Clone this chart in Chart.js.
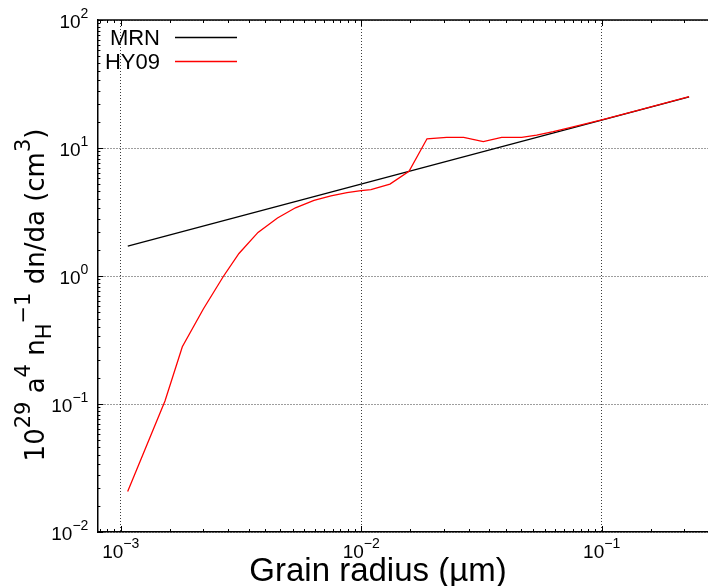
<!DOCTYPE html>
<html>
<head>
<meta charset="utf-8">
<script src="https://cdn.jsdelivr.net/npm/chart.js@4/dist/chart.umd.min.js"></script>
<style>
  html, body { margin: 0; padding: 0; background: #fff; overflow: hidden; }
  #wrap { width: 720px; height: 586px; }
</style>
</head>
<body>
<div id="wrap"><canvas id="c" width="720" height="586"></canvas></div>
<script>
// Grain size distributions: a^4 n_H^-1 dn/da (in 1e-29 cm^3) against grain radius (µm)
const MRN_RADIUS = [0.00107, 0.231];
const MRN_VALUE  = [1.71, 25.1];

const HY09_RADIUS = [0.001069, 0.001528, 0.001804, 0.002206, 0.002671, 0.003103, 0.003724,
  0.004487, 0.00533, 0.006365, 0.007487, 0.00873, 0.00998, 0.01098, 0.01317, 0.01581,
  0.01878, 0.02267, 0.02668, 0.03219, 0.03838, 0.04649, 0.05366, 0.0629, 0.07381,
  0.1, 0.14, 0.231];
const HY09_VALUE = [0.0207, 0.1055, 0.280, 0.552, 0.991, 1.50, 2.19,
  2.84, 3.41, 3.89, 4.22, 4.48, 4.64, 4.73, 5.23, 6.58,
  11.8, 12.1, 12.1, 11.2, 12.1, 12.1, 12.6, 13.4, 14.4,
  16.6, 19.6, 25.2];

const SERIES_NAMES = ['MRN', 'HY09'];
const SERIES_COLORS = ['#000000', '#ff0000'];

// Axis ranges and tick layout (decades, with 14 linear minor steps per decade)
const X_RANGE = [8e-4, 0.3];
const Y_RANGE = [1e-2, 1e2];
const X_DECADES = [1e-4, 1e-3, 1e-2, 1e-1];
const Y_DECADES = [1e-3, 1e-2, 1e-1, 1e0, 1e1, 1e2];
const MINOR_MULT = [1.6, 2.2, 2.8, 3.4, 4.0, 4.6, 5.2, 5.8, 6.4, 7.0, 7.6, 8.2, 8.8, 9.4];
const X_TICK_LABELS = [[1e-3, '−3'], [1e-2, '−2'], [1e-1, '−1']];
const Y_TICK_LABELS = [[1e-2, '−2'], [1e-1, '−1'], [1e0, '0'], [1e1, '1'], [1e2, '2']];

const X_TITLE = [['Grain radius (µm)', 0]];
const Y_TITLE = [['10', 0], ['29', 1], [' a', 0], ['4', 1], [' n', 0], ['H', -1], ['−1', 1],
  [' dn/da (cm', 0], ['3', 1], [')', 0]];

const FONT = "'Liberation Sans', Arial, Helvetica, sans-serif";
const WIDE_FONT = "'DejaVu Sans', Verdana, sans-serif";

function isDecade(v) {
  const l = Math.log10(v);
  return Math.abs(l - Math.round(l)) < 1e-9;
}

function tickValues(decades, range) {
  const out = [];
  for (const d of decades) {
    out.push(d);
    for (const m of MINOR_MULT) out.push(d * m);
  }
  return out.filter(v => v >= range[0] * 0.9999 && v <= range[1] * 1.0001)
            .sort((a, b) => a - b);
}

function points(xs, ys) {
  return xs.map((x, i) => ({ x: x, y: ys[i] }));
}

// Text with superscripts (level 1) and subscripts (level -1)
function drawRich(ctx, parts, x, y, size, align, scale, family) {
  const fam = family || FONT;
  const small = Math.round(size * (scale || 0.74));
  const fontFor = l => (l ? small : size) + 'px ' + fam;
  let w = 0;
  for (const [t, l] of parts) { ctx.font = fontFor(l); w += ctx.measureText(t).width; }
  let cx = align === 'right' ? x - w : align === 'center' ? x - w / 2 : x;
  ctx.textAlign = 'left';
  ctx.textBaseline = 'alphabetic';
  for (const [t, l] of parts) {
    ctx.font = fontFor(l);
    const dy = l === 1 ? -size * 0.52 : l === -1 ? size * 0.28 : 0;
    ctx.fillText(t, cx, y + dy);
    cx += ctx.measureText(t).width;
  }
}

const frame = {
  id: 'frame',
  afterDraw(chart) {
    const ctx = chart.ctx;
    const a = chart.chartArea;
    const xs = chart.scales.x, ys = chart.scales.y;
    ctx.save();

    // top border
    ctx.strokeStyle = '#000';
    ctx.lineWidth = 1.5;
    ctx.beginPath();
    ctx.moveTo(a.left, a.top);
    ctx.lineTo(a.right + 2, a.top);
    ctx.stroke();

    // inward tick marks
    ctx.lineWidth = 1;
    ctx.beginPath();
    for (const t of xs.ticks) {
      const px = Math.round(xs.getPixelForValue(t.value)) + 0.5;
      const len = isDecade(t.value) ? 6 : 3;
      ctx.moveTo(px, a.bottom); ctx.lineTo(px, a.bottom - len);
      ctx.moveTo(px, a.top); ctx.lineTo(px, a.top + len);
    }
    for (const t of ys.ticks) {
      const py = Math.round(ys.getPixelForValue(t.value)) + 0.5;
      const len = isDecade(t.value) ? 6 : 3;
      ctx.moveTo(a.left, py); ctx.lineTo(a.left + len, py);
    }
    ctx.stroke();

    // tick labels
    ctx.fillStyle = '#000';
    for (const [v, e] of X_TICK_LABELS) {
      const px = xs.getPixelForValue(v);
      drawRich(ctx, [['10', 0], [e, 1]], px, a.bottom + 26, 19, 'center');
    }
    for (const [v, e] of Y_TICK_LABELS) {
      const py = ys.getPixelForValue(v);
      drawRich(ctx, [['10', 0], [e, 1]], a.left - 9, py + 8, 19, 'right');
    }

    // axis titles
    drawRich(ctx, X_TITLE, 378, 581, 33, 'center');
    ctx.save();
    ctx.translate(44, 295);
    ctx.rotate(-Math.PI / 2);
    drawRich(ctx, Y_TITLE, 0, 0, 26, 'center', 0.8, WIDE_FONT);
    ctx.restore();

    // key
    chart.data.datasets.forEach((ds) => {
      const idx = SERIES_NAMES.indexOf(ds.label);
      const ly = 37 + idx * 24;
      ctx.font = '22px ' + FONT;
      ctx.textAlign = 'right';
      ctx.textBaseline = 'alphabetic';
      ctx.fillStyle = '#000';
      ctx.fillText(ds.label, 160, ly + 8);
      ctx.strokeStyle = ds.borderColor;
      ctx.lineWidth = 1.3;
      ctx.beginPath();
      ctx.moveTo(175, ly + 0.5);
      ctx.lineTo(237, ly + 0.5);
      ctx.stroke();
    });

    ctx.restore();
  }
};

function gridColor(c) {
  return c.tick && isDecade(c.tick.value) ? 'rgba(40,40,40,0.9)' : 'rgba(0,0,0,0)';
}

new Chart(document.getElementById('c'), {
  type: 'line',
  data: {
    datasets: [
      {
        label: SERIES_NAMES[0],
        data: points(MRN_RADIUS, MRN_VALUE),
        borderColor: SERIES_COLORS[0],
        borderWidth: 1.3,
        pointRadius: 0,
        tension: 0,
        order: 1
      },
      {
        label: SERIES_NAMES[1],
        data: points(HY09_RADIUS, HY09_VALUE),
        borderColor: SERIES_COLORS[1],
        borderWidth: 1.3,
        pointRadius: 0,
        tension: 0,
        order: 0
      }
    ]
  },
  options: {
    responsive: false,
    animation: false,
    events: [],
    layout: { padding: { left: 0, top: 20, right: 3.6, bottom: 0 } },
    plugins: { legend: { display: false }, tooltip: { enabled: false } },
    scales: {
      x: {
        type: 'logarithmic',
        min: X_RANGE[0],
        max: X_RANGE[1],
        afterBuildTicks: s => { s.ticks = tickValues(X_DECADES, X_RANGE).map(v => ({ value: v })); },
        afterFit: s => { s.height = 54; },
        ticks: { display: false },
        grid: { color: gridColor, lineWidth: 1, drawTicks: false },
        border: { display: true, color: '#000', width: 1.5, dash: [1, 2] }
      },
      y: {
        type: 'logarithmic',
        min: Y_RANGE[0],
        max: Y_RANGE[1],
        afterBuildTicks: s => { s.ticks = tickValues(Y_DECADES, Y_RANGE).map(v => ({ value: v })); },
        afterFit: s => { s.width = 97.4; },
        ticks: { display: false },
        grid: { color: gridColor, lineWidth: 1, drawTicks: false },
        border: { display: true, color: '#000', width: 1.5, dash: [1, 2] }
      }
    }
  },
  plugins: [frame]
});
</script>
</body>
</html>
